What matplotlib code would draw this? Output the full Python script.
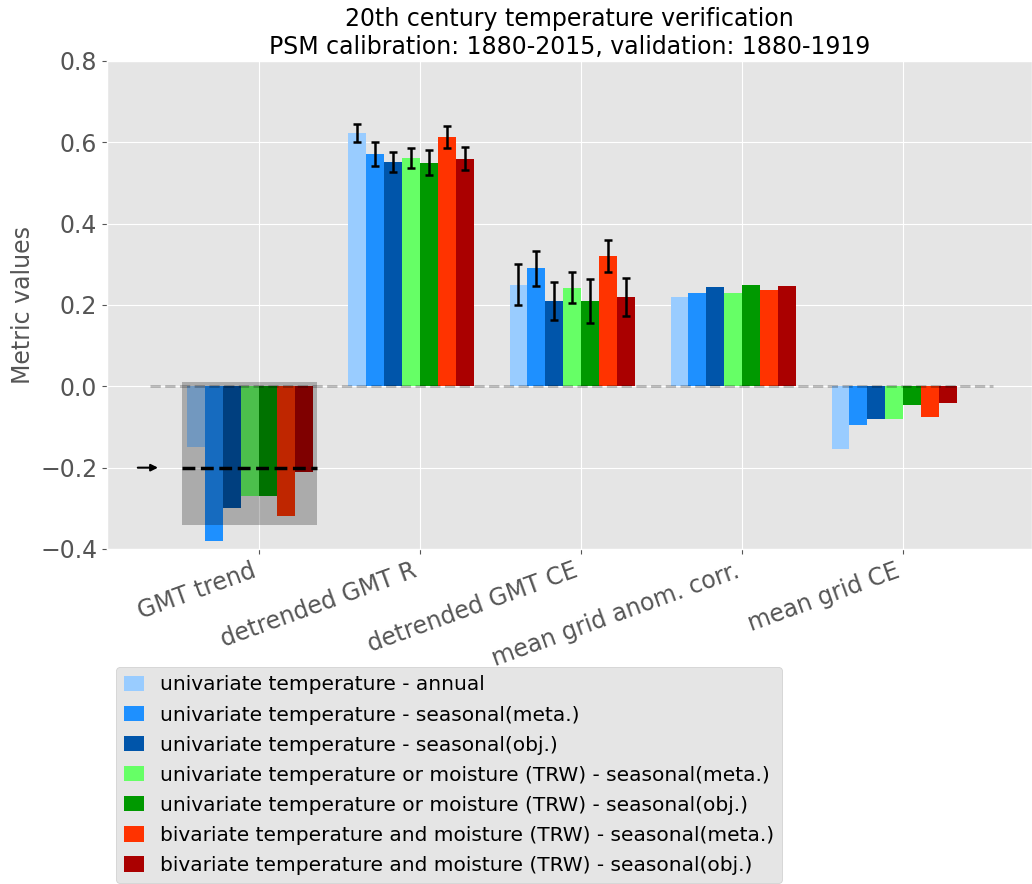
import numpy as np
import matplotlib
matplotlib.use('Agg')
import matplotlib.pyplot as plt
from matplotlib.patches import Rectangle

plt.style.use('ggplot')

# Data
metrics = ['GMT trend', 'detrended GMT R', 'detrended GMT CE',
           'mean grid anom. corr.', 'mean grid CE']

labels = ['univariate temperature - annual',
          'univariate temperature - seasonal(meta.)',
          'univariate temperature - seasonal(obj.)',
          'univariate temperature or moisture (TRW) - seasonal(meta.)',
          'univariate temperature or moisture (TRW) - seasonal(obj.)',
          'bivariate temperature and moisture (TRW) - seasonal(meta.)',
          'bivariate temperature and moisture (TRW) - seasonal(obj.)']

colors = ['#99ccff', '#1e90ff', '#0055aa', '#66ff66', '#009900', '#ff3300', '#aa0000']

# one list per experiment: values for the 5 metrics
vals_T_annual = [-0.15, 0.622, 0.25, 0.22, -0.155]
vals_T_meta = [-0.38, 0.572, 0.29, 0.23, -0.095]
vals_T_obj = [-0.30, 0.552, 0.21, 0.245, -0.08]
vals_TorM_meta = [-0.27, 0.562, 0.242, 0.23, -0.08]
vals_TorM_obj = [-0.27, 0.55, 0.21, 0.25, -0.045]
vals_TM_meta = [-0.32, 0.613, 0.32, 0.238, -0.075]
vals_TM_obj = [-0.21, 0.56, 0.22, 0.247, -0.04]

# error bars (only for detrended GMT R and CE)
err_T_annual = [0, 0.022, 0.05, 0, 0]
err_T_meta = [0, 0.03, 0.043, 0, 0]
err_T_obj = [0, 0.025, 0.046, 0, 0]
err_TorM_meta = [0, 0.025, 0.038, 0, 0]
err_TorM_obj = [0, 0.03, 0.055, 0, 0]
err_TM_meta = [0, 0.027, 0.04, 0, 0]
err_TM_obj = [0, 0.028, 0.047, 0, 0]

values = [vals_T_annual, vals_T_meta, vals_T_obj, vals_TorM_meta,
          vals_TorM_obj, vals_TM_meta, vals_TM_obj]
errors = [err_T_annual, err_T_meta, err_T_obj, err_TorM_meta,
          err_TorM_obj, err_TM_meta, err_TM_obj]

target_trend = -0.2

fig = plt.figure(figsize=(10.32, 8.84), dpi=100)
ax = fig.add_axes([107/1032, 1 - 549/884, 1 - 107/1032, (549 - 61)/884])

ind = np.arange(len(metrics))
width = 1.0 / 9

for i in range(len(values)):
    pos = ind + (i - 3.5) * width
    ax.bar(pos, values[i], width, color=colors[i], label=labels[i], zorder=2)
    err = np.array(errors[i])
    has_err = err > 0
    ax.errorbar(pos[has_err], np.array(values[i])[has_err], yerr=err[has_err],
                fmt='none', ecolor='k', elinewidth=1.8, capsize=3, capthick=1.8,
                zorder=3)

# shaded box around the GMT trend bars + target line
ax.add_patch(Rectangle((-0.48, -0.34), 0.84, 0.35, facecolor='k', alpha=0.25,
                       edgecolor='none', zorder=4))
ax.plot([-0.48, 0.36], [target_trend, target_trend], 'k--', lw=2.5, zorder=5)
ax.annotate('', xy=(-0.61, target_trend), xytext=(-0.77, target_trend),
            arrowprops=dict(arrowstyle='-|>', color='k', lw=1.5,
                            mutation_scale=10), zorder=5)

# zero line
ax.plot([-0.68, 4.56], [0, 0], '--', color='k', alpha=0.25, lw=2, zorder=4)

ax.set_xlim(-0.944, 4.80)
ax.set_ylim(-0.4, 0.8)
ax.set_xticks(ind)
ax.set_xticklabels(metrics, rotation=20, ha='right', fontsize=17)
ax.tick_params(axis='y', labelsize=17)
ax.set_ylabel('Metric values', fontsize=17)
ax.set_title('20th century temperature verification\n'
             'PSM calibration: 1880-2015, validation: 1880-1919',
             fontsize=17, color='k', pad=5)

fig.legend(loc='lower left', bbox_to_anchor=(116/1032, 1/884), fontsize=14.5,
           facecolor='#e5e5e5', edgecolor='#cccccc', framealpha=1,
           handlelength=1.0, handleheight=0.8, borderpad=0.4,
           labelspacing=0.55, borderaxespad=0)

plt.savefig('out.png', dpi=100)
